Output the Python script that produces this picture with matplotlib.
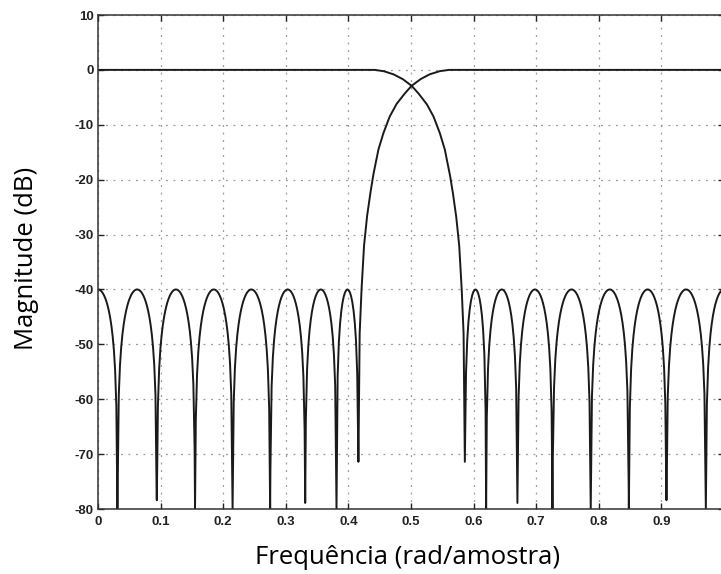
import numpy as np
import matplotlib.pyplot as plt

plt.rcParams['axes.unicode_minus'] = False

hp_nulls = [0.031, 0.094, 0.155, 0.215, 0.275, 0.331, 0.381, 0.416]
hp_floor = [-80, -78.4, -80, -80, -80, -78.9, -80, -71.4]
lp_nulls = [0.586, 0.620, 0.670, 0.726, 0.787, 0.848, 0.908, 0.971]
lp_floor = [-71.4, -80, -78.9, -80, -80, -80, -78.4, -80]
ripple_db = -40

# transition band, read point by point
hp_trans_f = [0.416, 0.418, 0.421, 0.425, 0.430, 0.435, 0.440, 0.448, 0.456,
              0.466, 0.477, 0.490, 0.501, 0.515, 0.530, 0.545, 0.560]
hp_trans_db = [-71.4, -48, -40, -32, -26.5, -22.5, -19, -14.5, -11.5,
               -8.5, -6.2, -4.3, -2.9, -1.7, -0.8, -0.25, 0]
lp_trans_f = [0.442, 0.457, 0.472, 0.487, 0.501, 0.512, 0.525, 0.536, 0.546,
              0.554, 0.562, 0.567, 0.572, 0.577, 0.581, 0.584, 0.586]
lp_trans_db = [0, -0.25, -0.8, -1.7, -2.9, -4.3, -6.2, -8.5, -11.5,
               -14.5, -19, -22.5, -26.5, -32, -40, -48, -71.4]

xticks = np.arange(0, 1.0, 0.1)
yticks = np.arange(-80, 11, 10)


def lobes(f, edges, floors):
    # one ripple arch between each pair of neighbouring nulls
    out = np.full_like(f, np.nan)
    for i in range(len(edges) - 1):
        a, b = edges[i], edges[i + 1]
        m = (f >= a) & (f <= b)
        with np.errstate(divide='ignore'):
            v = ripple_db + 20 * np.log10(np.abs(np.sin(np.pi * (f[m] - a) / (b - a))))
        fl = np.where(f[m] < (a + b) / 2, floors[i], floors[i + 1])
        out[m] = np.maximum(v, fl)
    return out


# 512-point frequency grid (freqz style) plus the nulls themselves
f = np.union1d(np.arange(512) / 512, hp_nulls + lp_nulls)
f = np.union1d(f, hp_trans_f + lp_trans_f)

# high-pass
hp = np.zeros_like(f)
edges = [-hp_nulls[0]] + hp_nulls
st = f <= hp_nulls[-1]
hp[st] = lobes(f, edges, [hp_floor[0]] + hp_floor)[st]
tr = (f > hp_nulls[-1]) & (f <= hp_trans_f[-1])
hp[tr] = np.interp(f[tr], hp_trans_f, hp_trans_db)

# low-pass
lp = np.zeros_like(f)
tr = (f >= lp_trans_f[0]) & (f < lp_nulls[0])
lp[tr] = np.interp(f[tr], lp_trans_f, lp_trans_db)
edges = lp_nulls + [2 - lp_nulls[-1]]
st = f >= lp_nulls[0]
lp[st] = lobes(f, edges, lp_floor + [lp_floor[-1]])[st]

fig = plt.figure(figsize=(7.21, 5.74), dpi=100)
ax = fig.add_axes([98 / 721, 65 / 574, 626 / 721, 494 / 574])

ax.plot(f, lp, color='#1a1a1a', lw=1.4)
ax.plot(f, hp, color='#1a1a1a', lw=1.4)

ax.set_xlim(0, 1)
ax.set_ylim(-80, 10)
ax.set_xticks(xticks)
ax.set_xticklabels(['0'] + ['%.1f' % t for t in xticks[1:]])
ax.set_yticks(yticks)
ax.grid(True, linestyle=(0, (1.5, 4.5)), color='#999999', lw=0.9)
ax.tick_params(direction='in', top=True, right=True, length=4, width=1,
               labelsize=9.5, pad=3, colors='#222222')
ax.tick_params(axis='x', pad=5)
for lab in ax.get_xticklabels() + ax.get_yticklabels():
    lab.set_family('Liberation Sans')
    lab.set_fontweight('bold')
for s in ax.spines.values():
    s.set_color('#333333')
    s.set_linewidth(1.1)

fig.text(408 / 721, 1 - 557 / 574, 'Frequência (rad/amostra)', family='Open Sans',
         fontsize=18.5, ha='center', va='center')
fig.text(27 / 721, 1 - 258 / 574, 'Magnitude (dB)', family='Open Sans',
         fontsize=18.5, ha='center', va='center', rotation=90)

fig.savefig('out.png', dpi=100)
